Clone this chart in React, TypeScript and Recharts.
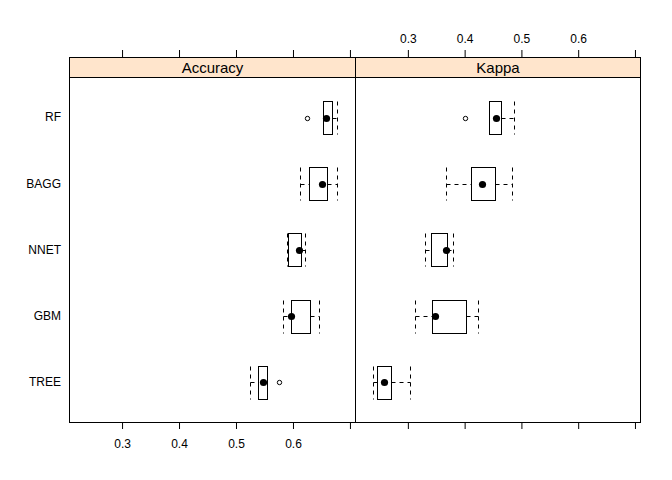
import { ComposedChart, Bar, XAxis, YAxis } from "recharts";

// Data
const models = ["RF", "BAGG", "NNET", "GBM", "TREE"];

// [lower whisker, q1, median, q3, upper whisker]
const accuracyStats = [
  [0.651, 0.651, 0.657, 0.668, 0.677],
  [0.612, 0.628, 0.65, 0.659, 0.677],
  [0.588, 0.591, 0.61, 0.613, 0.621],
  [0.581, 0.595, 0.595, 0.629, 0.644],
  [0.524, 0.537, 0.546, 0.553, 0.553],
];
const accuracyOutliers = [[0.6235], [], [], [], [0.5744]];

const kappaStats = [
  [0.442, 0.442, 0.455, 0.463, 0.486],
  [0.367, 0.41, 0.43, 0.453, 0.482],
  [0.33, 0.339, 0.366, 0.368, 0.379],
  [0.312, 0.342, 0.347, 0.402, 0.423],
  [0.237, 0.244, 0.257, 0.27, 0.303],
];
const kappaOutliers = [[0.3995], [], [], [], []];

const xDomain = [0.206, 0.708];
const xTicks = [0.3, 0.4, 0.5, 0.6, 0.7];
const labelledTicks = [0.3, 0.4, 0.5, 0.6];

const FONT = "'Liberation Sans', Arial, sans-serif";

function buildRows(stats: number[][], outliers: number[][]) {
  return models.map((model, i) => {
    const lo = Math.min(stats[i][0], ...outliers[i]);
    const hi = Math.max(stats[i][4], ...outliers[i]);
    return { model, stats: stats[i], outliers: outliers[i], range: [lo, hi] };
  });
}

// snap to half pixels so 1px lines stay crisp
const snap = (v: number) => Math.round(v) + 0.5;

function BoxShape(props: any) {
  const { x, y, width, height, payload } = props;
  const [lo, hi] = payload.range;
  const px = (v: number) => snap(x + ((v - lo) / (hi - lo)) * width);
  const [wl, q1, med, q3, wh] = payload.stats;
  const top = snap(y);
  const bottom = snap(y + height);
  const cy = snap(y + height / 2);
  const dash = "4 4";
  return (
    <g>
      <line x1={px(wl)} x2={px(q1)} y1={cy} y2={cy} stroke="#000" strokeDasharray={dash} />
      <line x1={px(q3)} x2={px(wh)} y1={cy} y2={cy} stroke="#000" strokeDasharray={dash} />
      <line x1={px(wl)} x2={px(wl)} y1={top} y2={bottom} stroke="#000" strokeDasharray={dash} />
      <line x1={px(wh)} x2={px(wh)} y1={top} y2={bottom} stroke="#000" strokeDasharray={dash} />
      <rect x={px(q1)} y={top} width={px(q3) - px(q1)} height={bottom - top} fill="none" stroke="#000" />
      <circle cx={px(med)} cy={cy} r={3.6} fill="#000" />
      {payload.outliers.map((o: number, k: number) => (
        <circle key={k} cx={px(o)} cy={cy} r={2.2} fill="none" stroke="#000" />
      ))}
    </g>
  );
}

type PanelProps = {
  title: string;
  rows: any[];
  left: number;
  right: number;
  showYLabels: boolean;
  labelsOnTop: boolean;
};

function Panel({ title, rows, left, right, showYLabels, labelsOnTop }: PanelProps) {
  const fmtOn = (v: number) => (labelledTicks.includes(v) ? String(v) : "");
  const fmtOff = () => "";
  const tickStyle = { fontSize: 12, fill: "#000", fontFamily: FONT };
  return (
    <>
      <div style={{ position: "absolute", left: 0, top: 0 }}>
        <ComposedChart
          width={672}
          height={480}
          layout="vertical"
          data={rows}
          margin={{ top: 0, right: 672 - right, bottom: 0, left: showYLabels ? 0 : left }}
        >
          <XAxis
            xAxisId="top"
            orientation="top"
            type="number"
            domain={xDomain}
            ticks={xTicks}
            allowDataOverflow
            height={57}
            axisLine={false}
            tickLine={{ stroke: "#000" }}
            tickSize={7}
            tickMargin={7}
            tick={tickStyle}
            tickFormatter={labelsOnTop ? fmtOn : fmtOff}
          />
          <XAxis
            xAxisId="bottom"
            orientation="bottom"
            type="number"
            domain={xDomain}
            ticks={xTicks}
            allowDataOverflow
            height={58}
            axisLine={false}
            tickLine={{ stroke: "#000" }}
            tickSize={7}
            tickMargin={10}
            tick={tickStyle}
            tickFormatter={labelsOnTop ? fmtOff : fmtOn}
          />
          <YAxis
            type="category"
            dataKey="model"
            width={left}
            hide={!showYLabels}
            padding={{ top: 27, bottom: 7 }}
            axisLine={false}
            tickLine={false}
            tickSize={0}
            tickMargin={8}
            tick={tickStyle}
          />
          <Bar
            xAxisId="bottom"
            dataKey="range"
            barSize={33}
            shape={(p: any) => <BoxShape {...p} />}
            isAnimationActive={false}
          />
        </ComposedChart>
      </div>
      <div
        style={{
          position: "absolute",
          left,
          top: 57,
          width: right - left + 1,
          height: 21,
          boxSizing: "border-box",
          border: "1px solid #000",
          background: "#ffe5cc",
          fontFamily: FONT,
          fontSize: 15,
          lineHeight: "19px",
          textAlign: "center",
          color: "#000",
        }}
      >
        {title}
      </div>
      <div
        style={{
          position: "absolute",
          left,
          top: 77,
          width: right - left + 1,
          height: 346,
          boxSizing: "border-box",
          border: "1px solid #000",
          pointerEvents: "none",
        }}
      />
    </>
  );
}

export default function App() {
  const accuracyRows = buildRows(accuracyStats, accuracyOutliers);
  const kappaRows = buildRows(kappaStats, kappaOutliers);
  return (
    <div
      style={{
        position: "absolute",
        left: 0,
        top: 0,
        width: 672,
        height: 480,
        background: "#fff",
        overflow: "hidden",
      }}
    >
      <Panel title="Accuracy" rows={accuracyRows} left={69} right={355} showYLabels labelsOnTop={false} />
      <Panel title="Kappa" rows={kappaRows} left={355} right={640} showYLabels={false} labelsOnTop />
    </div>
  );
}
